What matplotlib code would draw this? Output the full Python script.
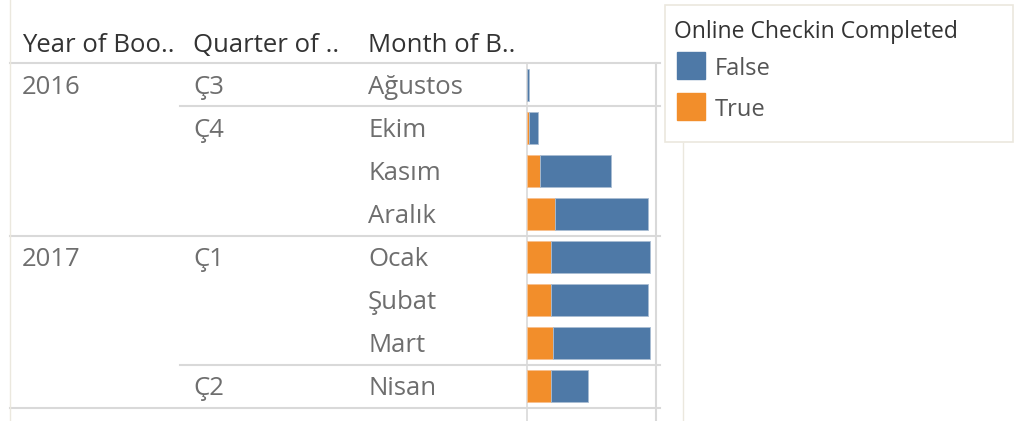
import matplotlib
matplotlib.use('Agg')
import matplotlib.pyplot as plt
from matplotlib.patches import Rectangle

plt.rcParams['font.family'] = ['Open Sans', 'DejaVu Sans']

# data (bar lengths in rough units)
years = ['2016', '2016', '2016', '2016', '2017', '2017', '2017', '2017']
quarters = ['Ç3', 'Ç4', 'Ç4', 'Ç4', 'Ç1', 'Ç1', 'Ç1', 'Ç2']
months = ['Ağustos', 'Ekim', 'Kasım', 'Aralık', 'Ocak', 'Şubat', 'Mart', 'Nisan']
true_vals = [0, 2, 13, 28, 24, 24, 26, 24]
false_vals = [1.5, 9, 71, 93, 99, 97, 97, 37]
headers = ['Year of Boo..', 'Quarter of ..', 'Month of B..']
legend_title = 'Online Checkin Completed'
legend_labels = ['False', 'True']

BLUE = '#4e79a7'
ORANGE = '#f28e2b'
GRID = '#d9d9d9'
BEIGE = '#ebe8de'

W, H = 1021, 421
fig = plt.figure(figsize=(W / 100, H / 100), dpi=100)

# overlay axes in pixel coordinates for the table layout
ov = fig.add_axes([0, 0, 1, 1])
ov.set_xlim(0, W)
ov.set_ylim(H, 0)
ov.axis('off')

top, bottom = 63, 408
n = len(months)
rh = (bottom - top) / n
bar_l, bar_r = 527, 656
fs = 18.5

# bar axes
ax = fig.add_axes([bar_l / W, (H - bottom) / H, (bar_r - bar_l) / W, (bottom - top) / H])
ax.barh(range(n), true_vals, height=0.74, color=ORANGE, edgecolor='#f7c08f', linewidth=0.6)
ax.barh(range(n), false_vals, left=true_vals, height=0.74, color=BLUE, edgecolor='#a9bdd3', linewidth=0.6)
ax.set_xlim(0, 129)
ax.set_ylim(n - 0.5, -0.5)
ax.axis('off')

# headers
hx = [22, 193, 368]
for x, t in zip(hx, headers):
    ov.text(x, 46, t, fontsize=fs, color='#333333', va='center', ha='left')

# row labels
for i in range(n):
    yc = top + (i + 0.5) * rh + 2.5
    if i == 0 or years[i] != years[i - 1]:
        ov.text(22, yc, years[i], fontsize=fs, color='#6e6e6e', va='center')
    if i == 0 or quarters[i] != quarters[i - 1]:
        ov.text(193, yc, quarters[i], fontsize=fs, color='#6e6e6e', va='center')
    ov.text(368, yc, months[i], fontsize=fs, color='#6e6e6e', va='center')

# grid lines
ov.plot([10, 660], [top, top], color=GRID, lw=1.5)
ov.plot([10, 660], [bottom, bottom], color=GRID, lw=1.5)
for i in range(1, n):
    y = top + i * rh
    if years[i] != years[i - 1]:
        ov.plot([10, 660], [y, y], color=GRID, lw=1.5)
    elif quarters[i] != quarters[i - 1]:
        ov.plot([180, 660], [y, y], color=GRID, lw=1.5)
ov.plot([bar_l, bar_l], [top, H], color=GRID, lw=1.2)
ov.plot([bar_r, bar_r], [top, H], color=GRID, lw=1.5)
ov.plot([10, 10], [0, H], color=BEIGE, lw=1)
ov.plot([683, 683], [143, H], color=BEIGE, lw=1)

# legend
ov.add_patch(Rectangle((665, 5), 348, 137, fill=False, edgecolor=BEIGE, lw=1.2))
ov.text(674, 32, legend_title, fontsize=16.5, color='#333333', va='center')
for k, (lab, col) in enumerate(zip(legend_labels, [BLUE, ORANGE])):
    y0 = 52 + k * 41
    ov.add_patch(Rectangle((677, y0), 28, 27, color=col))
    ov.text(715, y0 + 17, lab, fontsize=17, color='#555555', va='center')

fig.savefig('out.png', dpi=100)
